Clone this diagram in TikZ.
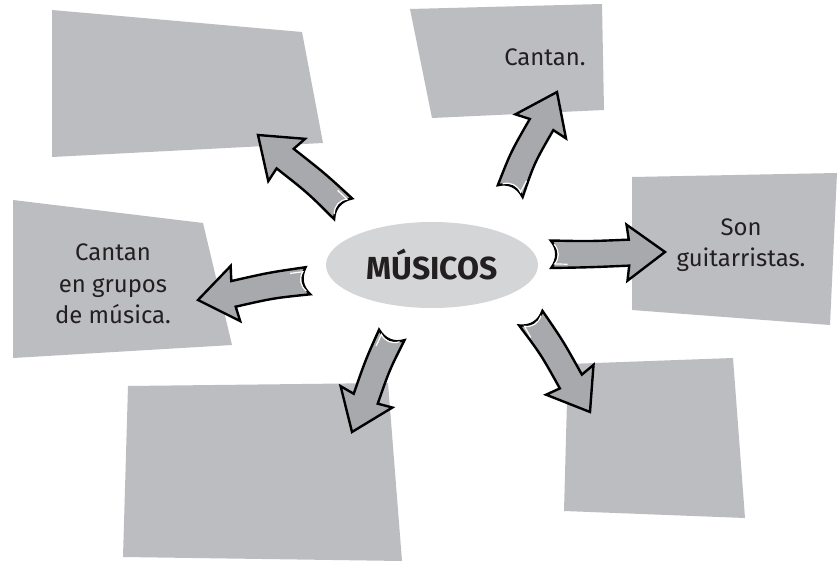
\documentclass[tikz,border=0pt]{standalone}
\usepackage{fontspec}
\setmainfont{Fira Sans}
\usetikzlibrary{shapes.geometric}
\definecolor{boxgray}{HTML}{BCBDC0}
\definecolor{ellgray}{HTML}{D4D5D7}
\definecolor{arrgray}{HTML}{A8A9AC}
\definecolor{txtcol}{HTML}{231F20}
\tikzset{
  card/.style={fill=boxgray, draw=none},
  arrowbody/.style={fill=arrgray, draw=black, line width=2.4bp, line join=miter},
  shine/.style={draw=white, line width=1.2bp, line cap=round},
  lbl/.style={text=txtcol, align=center, inner sep=0pt, font=\fontsize{24}{31.5}\selectfont},
}
\newcommand\blockarr[5]{%
  \pgfmathsetmacro\arrang{atan2(-(#4-#2),#3-#1)}%
  \pgfmathsetmacro\arrlen{veclen(#3-#1,#4-#2)}%
  \pgfmathsetmacro\hb{\arrlen-38}%
  \pgfmathsetmacro\hm{\hb/2}%
  \begin{scope}[shift={(#1,#2)},rotate=\arrang]
    \path[arrowbody] (\hb+2,-13) .. controls (\hm,-13+#5) .. (0,-13.5)
      .. controls (7,-5) and (7,5) .. (0,14)
      .. controls (\hm,13+#5) .. (\hb+2,13) -- (\hb,28) -- (\arrlen,0) -- (\hb,-28) -- cycle;
    \path[shine] (3.5,-9.5) .. controls (8.5,-3) and (8.5,4) .. (3.5,10) -- (16,10.5);
  \end{scope}}
\begin{document}
\begin{tikzpicture}[x=1bp,y=-1bp]
\useasboundingbox (0,0) rectangle (838,563);
\fill[white] (0,0) rectangle (838,563);
% cards
\path[card] (52,10) -- (302,32) -- (323,143) -- (52,157) -- cycle;
\path[card] (410,9) -- (602,4) -- (604,110) -- (432,118) -- cycle;
\path[card] (632,177) -- (837,173) -- (830,325) -- (632,310) -- cycle;
\path[card] (13,200) -- (203,223) -- (232,345) -- (13,358) -- cycle;
\path[card] (128,386) -- (388,383) -- (402,561) -- (123,557) -- cycle;
\path[card] (568,364) -- (733,358) -- (745,518) -- (564,511) -- cycle;
% labels
\node[lbl] (t2) at (545,57) {Cantan.};
\node[lbl] (t3) at (741,245) {Son\\guitarristas.};
\node[lbl] (t4) at (113,284) {Cantan\\en grupos\\de música.};
% centre
\node[ellipse, fill=ellgray, minimum width=212bp, minimum height=86bp, inner sep=0pt,
      text=txtcol, font=\fontsize{32}{36}\selectfont\bfseries] (c) at (432,265) {MÚSICOS};
% arrows
\blockarr{343}{209}{258}{135}{2}
\blockarr{510}{191}{557}{92}{-3}
\blockarr{551}{254}{665}{252}{1}
\blockarr{308}{281}{198}{300}{2}
\blockarr{392}{335}{352}{432}{2}
\blockarr{531}{318}{590}{412}{-2}
\end{tikzpicture}
\end{document}
